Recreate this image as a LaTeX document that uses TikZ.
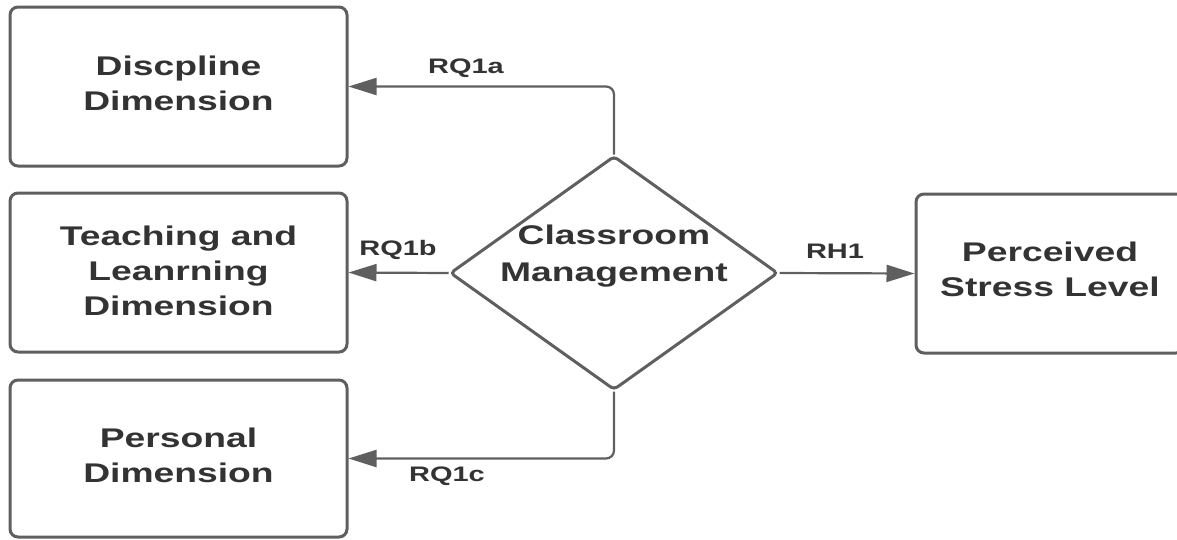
\documentclass[tikz,border=0pt]{standalone}
\usepackage{fontspec}
\setmainfont{Liberation Sans}[FakeStretch=1.38]
\usetikzlibrary{shapes.geometric,arrows.meta}
\definecolor{linegray}{HTML}{5F5F5F}
\definecolor{textgray}{HTML}{333333}
\tikzset{
  box/.style={draw=linegray, line width=3pt, rounded corners=8pt, fill=white,
    minimum width=337pt, minimum height=159pt, align=center, text=textgray,
    font=\fontsize{27}{35}\selectfont\bfseries, inner sep=0pt, text depth=7pt},
  dia/.style={draw=linegray, line width=3pt, shape=diamond, rounded corners=4pt,
    minimum width=328pt, minimum height=234pt, inner sep=0pt},
  dtext/.style={align=center, text=textgray, font=\fontsize{27}{37}\selectfont\bfseries},
  conn/.style={draw=linegray, line width=2.2pt, rounded corners=8pt,
    -{Triangle[length=28pt,width=17pt]}},
  lab/.style={text=textgray, font=\fontsize{21}{25}\selectfont\bfseries, inner sep=0pt}
}
\begin{document}
\begin{tikzpicture}[x=1pt,y=-1pt]
\useasboundingbox (0,0) rectangle (1177,539);
\node[box] (d1) at (178.5,86.5) {Discpline\\Dimension};
\node[box, text depth=4pt] (d2) at (178.5,272.5) {Teaching and\\Leanrning\\Dimension};
\node[box, minimum height=157pt] (d3) at (178.5,458.5) {Personal\\Dimension};
\node[box, minimum width=268pt, text depth=8pt] (d4) at (1050,273.5) {Perceived\\Stress Level};
\node[dia] (cm) at (614,273) {};
\node[dtext] (cmt) at (614,256) {Classroom\\Management};
\draw[conn] (cm.north) |- (d1.east);
\draw[conn] (cm.west) -- (d2.east);
\draw[conn] (cm.south) |- (d3.east);
\draw[conn] (cm.east) -- (d4.west);
\node[lab] (l1) at (466,68) {RQ1a};
\node[lab] (l2) at (398,250) {RQ1b};
\node[lab] (l3) at (447,476) {RQ1c};
\node[lab] (l4) at (835,251) {RH1};
\end{tikzpicture}
\end{document}
